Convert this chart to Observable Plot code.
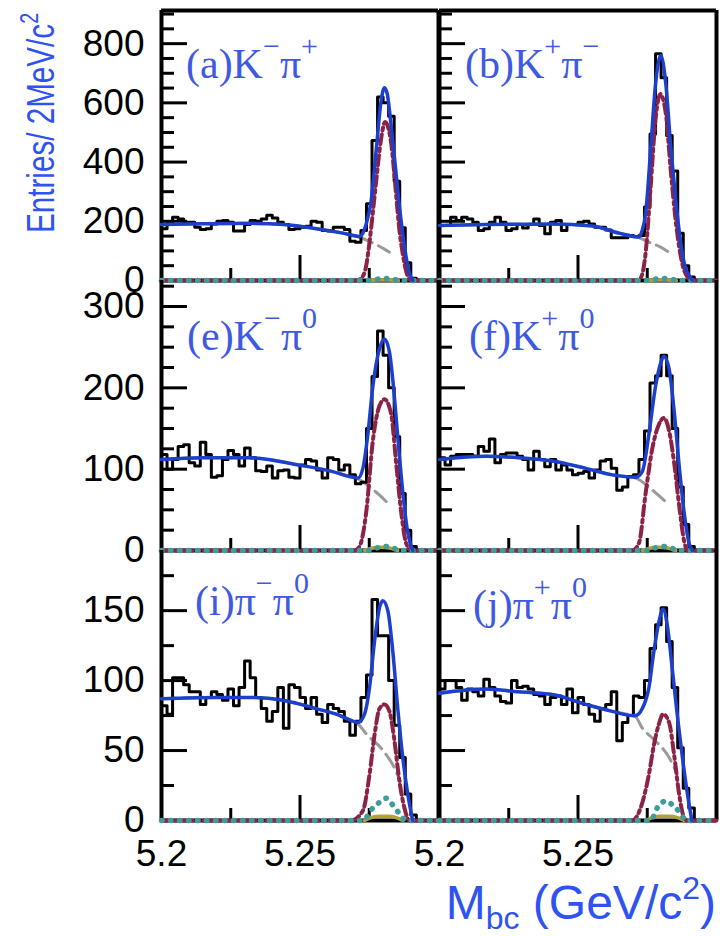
<!DOCTYPE html>
<html>
<head>
<meta charset="utf-8">
<script src="https://cdn.jsdelivr.net/npm/d3@7"></script>
<script src="https://cdn.jsdelivr.net/npm/@observablehq/plot@0.6"></script>
<style>
html,body{margin:0;padding:0;background:#fff;}
#chart{position:relative;width:720px;height:936px;overflow:hidden;background:#fff;}
.panel{position:absolute;}
</style>
</head>
<body>
<div id="chart"></div>
<script>
// ---------- axis definition ----------
const xDomain = [5.2, 5.3];
const binEdges = d3.range(51).map(i => +(5.2 + 0.002 * i).toFixed(3));
const yDomains = [[0, 912], [0, 332], [0, 193]];
const yMajor = [[0, 200, 400, 600, 800], [0, 100, 200, 300], [0, 50, 100, 150]];
const yMinor = [[50,100,150,250,300,350,450,500,550,650,700,750,850,900],[25,50,75,125,150,175,225,250,275,325],[25,75,125,175]];
const xMajor = [5.2, 5.25, 5.3];
const xMinor = [5.225, 5.275];
const xLabels = [5.2, 5.25];

// ---------- histogram counts (2 MeV bins, 5.200 - 5.300) ----------
const countsA = [175,197,214,208,197,197,180,172,175,191,200,203,197,167,167,189,203,200,208,220,211,197,189,172,175,180,183,200,197,169,167,180,180,172,133,129,169,259,473,620,600,555,335,178,60,8,0,0,0,0];
const countsB = [186,186,214,203,214,208,197,169,175,197,214,197,169,175,189,177,189,208,186,158,197,203,169,189,189,197,200,191,180,180,171,144,144,144,152,149,152,248,495,766,685,490,370,160,50,12,0,0,0,0];
const countsE = [118,100,112,128,130,108,104,133,118,90,92,112,123,118,104,126,114,98,97,104,89,98,99,90,89,105,112,110,99,89,114,112,99,105,93,82,84,150,214,270,240,200,140,70,25,5,0,0,0,0];
const countsF = [114,105,116,118,118,118,116,128,122,137,108,118,120,120,116,112,99,122,112,103,112,99,105,99,93,95,97,89,99,110,112,101,74,78,91,93,112,147,206,215,240,215,150,78,32,5,0,0,0,0];
const countsI = [82,76,102,102,97,92,92,83,88,92,90,86,94,82,95,114,102,88,80,71,78,95,66,97,95,88,80,88,76,70,83,80,78,71,61,71,88,104,158,132,132,100,68,45,19,4,0,0,0,0];
const countsJ = [94,100,100,95,86,94,92,89,101,95,89,85,84,100,95,96,94,90,89,83,88,89,83,94,77,88,83,76,71,80,83,92,57,70,75,89,88,100,123,140,152,128,95,52,23,9,0,0,0,0];

// ---------- fit curves: [Mbc, entries] ----------
const totalA = [[5.2,189],[5.215,192],[5.232,193],[5.244,189],[5.256,175],[5.2655,160],[5.2715,149],[5.2727,160],[5.2739,191],[5.2757,270],[5.2775,439],[5.2793,608],[5.2805,651],[5.2815,630],[5.2823,574],[5.2835,470],[5.2847,360],[5.2859,250],[5.2871,158],[5.2883,80],[5.2895,25],[5.2907,0]];
const sigA = [[5.2,0],[5.2703,0],[5.2727,15],[5.2739,50],[5.2751,130],[5.2763,230],[5.2775,335],[5.2793,480],[5.2807,535],[5.2819,515],[5.2829,465],[5.2839,375],[5.2847,290],[5.2859,170],[5.2871,90],[5.2881,40],[5.2889,14],[5.2903,0],[5.3,0]];
const bkgA = [[5.2,189],[5.215,192],[5.232,193],[5.244,189],[5.256,175],[5.2655,160],[5.2715,146],[5.276,128],[5.2805,106],[5.2822,96]];
const xfeedA = [[5.2,0],[5.2745,0],[5.2775,4],[5.2805,7],[5.2835,4],[5.2865,0],[5.3,0]];
const otherA = [[5.2745,0],[5.278,2],[5.282,2],[5.2855,0]];

const totalB = [[5.2,186],[5.2167,189],[5.2287,190],[5.2407,191],[5.2552,184],[5.2648,160],[5.272,147],[5.2732,170],[5.2744,225],[5.2762,439],[5.278,664],[5.2799,760],[5.2817,664],[5.2835,450],[5.2853,270],[5.2865,170],[5.2877,90],[5.2889,40],[5.2901,17],[5.2913,0]];
const sigB = [[5.2,0],[5.2712,0],[5.2726,8],[5.2744,92],[5.2762,312],[5.278,545],[5.2797,630],[5.2817,564],[5.2835,370],[5.2853,200],[5.2865,115],[5.2877,55],[5.2895,12],[5.291,0],[5.3,0]];
const bkgB = [[5.2,186],[5.2167,189],[5.2287,190],[5.2407,191],[5.2552,184],[5.2648,160],[5.272,145],[5.276,128],[5.28,112],[5.2824,98]];
const xfeedB = [[5.2,0],[5.2745,0],[5.2775,4],[5.2805,7],[5.2835,4],[5.2865,0],[5.3,0]];
const otherB = [[5.2745,0],[5.278,2],[5.282,2],[5.2855,0]];

const totalE = [[5.2,112],[5.215,114],[5.2318,114],[5.2498,105],[5.2618,97],[5.2679,91],[5.2709,89],[5.2727,101],[5.2745,143],[5.2763,202],[5.2787,248],[5.2805,260],[5.2823,244],[5.2835,210],[5.2847,164],[5.2859,115],[5.2871,72],[5.2889,22],[5.2907,0]];
const sigE = [[5.2,0],[5.2697,0],[5.2715,5],[5.2739,47],[5.2763,135],[5.2787,178],[5.2805,186],[5.2829,168],[5.2847,108],[5.2865,48],[5.2883,9],[5.2901,0],[5.3,0]];
const bkgE = [[5.2,112],[5.215,114],[5.2318,114],[5.2498,105],[5.2618,97],[5.2679,91],[5.2709,88],[5.2745,80],[5.2787,68],[5.2821,57]];
const xfeedE = [[5.2,0],[5.2745,0],[5.2775,3],[5.2805,5],[5.2835,3],[5.2865,0],[5.3,0]];
const otherE = [[5.2733,0],[5.2763,3],[5.2793,4],[5.2823,3],[5.2853,0]];

const totalF = [[5.2,112],[5.2167,116],[5.2287,114],[5.2407,110],[5.2528,101],[5.2624,93],[5.2708,90],[5.2732,97],[5.2756,143],[5.278,202],[5.2799,231],[5.281,239],[5.2829,223],[5.2847,172],[5.2865,105],[5.2883,47],[5.2901,9],[5.2913,0]];
const sigF = [[5.2,0],[5.2696,0],[5.272,9],[5.2744,70],[5.2768,125],[5.2792,155],[5.281,163],[5.2829,147],[5.2847,108],[5.2865,56],[5.2883,12],[5.2895,0],[5.3,0]];
const bkgF = [[5.2,112],[5.2167,116],[5.2287,114],[5.2407,110],[5.2528,101],[5.2624,93],[5.2708,89],[5.2756,78],[5.279,68],[5.2826,57]];
const xfeedF = [[5.2,0],[5.2745,0],[5.2775,3],[5.2805,5],[5.2835,3],[5.2865,0],[5.3,0]];
const otherF = [[5.2733,0],[5.2763,3],[5.2793,4],[5.2823,3],[5.2853,0]];

const totalI = [[5.2,87],[5.2197,88],[5.2318,88],[5.2438,86],[5.2558,80],[5.2631,76],[5.2691,71],[5.2709,70],[5.2733,76],[5.2751,95],[5.2769,128],[5.2787,152],[5.2799,157],[5.2817,150],[5.2835,121],[5.2853,80],[5.2871,45],[5.2889,19],[5.2907,0]];
const sigI = [[5.2,0],[5.2685,0],[5.2727,7],[5.2751,33],[5.2769,61],[5.2787,80],[5.2805,83],[5.2823,78],[5.2841,57],[5.2859,28],[5.2877,9],[5.2895,0],[5.3,0]];
const bkgI = [[5.2,87],[5.2197,88],[5.2318,88],[5.2438,86],[5.2558,80],[5.2631,76],[5.2691,71],[5.2709,69],[5.2739,62],[5.28,50],[5.284,38],[5.2862,28]];
const xfeedI = [[5.2,0],[5.2727,0],[5.2763,9],[5.2787,13],[5.2811,16],[5.2835,11],[5.2859,5],[5.2883,0],[5.3,0]];
const otherI = [[5.2733,0],[5.2757,2],[5.2787,3],[5.2817,3],[5.2847,2],[5.2871,0]];

const totalJ = [[5.2,91],[5.2167,94],[5.2287,92],[5.2407,90],[5.2528,83],[5.2624,78],[5.2696,75],[5.2708,75],[5.2732,80],[5.2756,95],[5.2774,121],[5.2792,142],[5.2807,151],[5.2822,140],[5.284,109],[5.2858,76],[5.2877,45],[5.2895,19],[5.2911,0]];
const sigJ = [[5.2,0],[5.2696,0],[5.2726,9],[5.2756,33],[5.2774,54],[5.2792,69],[5.2807,76],[5.2829,70],[5.2847,47],[5.2865,19],[5.2883,2],[5.2895,0],[5.3,0]];
const bkgJ = [[5.2,91],[5.2167,94],[5.2287,92],[5.2407,90],[5.2528,83],[5.2624,78],[5.2708,74],[5.2732,66],[5.2768,59],[5.2829,45],[5.2858,33]];
const xfeedJ = [[5.2,0],[5.2762,0],[5.2786,9],[5.2817,14],[5.2847,10],[5.2871,5],[5.2889,0],[5.3,0]];
const otherJ = [[5.2745,0],[5.2768,2],[5.2798,3],[5.2829,3],[5.2859,2],[5.2883,0]];

// ---------- panel labels ----------
const labelA = [["(a)K",0],["−",1],["π",0],["+",1]];
const labelB = [["(b)K",0],["+",1],["π",0],["−",1]];
const labelE = [["(e)K",0],["−",1],["π",0],["0",1]];
const labelF = [["(f)K",0],["+",1],["π",0],["0",1]];
const labelI = [["(i)π",0],["−",1],["π",0],["0",1]];
const labelJ = [["(j)π",0],["+",1],["π",0],["0",1]];

const panels = [
  {row:0,col:0,counts:countsA,total:totalA,sig:sigA,bkg:bkgA,xfeed:xfeedA,other:otherA,label:labelA,lx:186,ly:78},
  {row:0,col:1,counts:countsB,total:totalB,sig:sigB,bkg:bkgB,xfeed:xfeedB,other:otherB,label:labelB,lx:465,ly:78},
  {row:1,col:0,counts:countsE,total:totalE,sig:sigE,bkg:bkgE,xfeed:xfeedE,other:otherE,label:labelE,lx:187,ly:350},
  {row:1,col:1,counts:countsF,total:totalF,sig:sigF,bkg:bkgF,xfeed:xfeedF,other:otherF,label:labelF,lx:469,ly:350},
  {row:2,col:0,counts:countsI,total:totalI,sig:sigI,bkg:bkgI,xfeed:xfeedI,other:otherI,label:labelI,lx:195,ly:615},
  {row:2,col:1,counts:countsJ,total:totalJ,sig:sigJ,bkg:bkgJ,xfeed:xfeedJ,other:otherJ,label:labelJ,lx:473,ly:619}
];

// ---------- layout ----------
const colX = [161, 439];
const rowY = [10, 280, 550];
const W = 277, H = 270;
const mL = 120, mR = 8, mT = 8, mB = 80;
const fontSans = '"Liberation Sans", Arial, Helvetica, sans-serif';

const chart = document.getElementById("chart");
const px = d => d[0], py = d => d[1];

for (const p of panels) {
  const hist = binEdges.map((x, i) => ({x, y: i < p.counts.length ? p.counts[i] : p.counts[p.counts.length - 1]}));
  const yTop = yDomains[p.row][1];
  const marks = [
    Plot.ruleX(xDomain, {stroke: "black", strokeWidth: 4}),
    Plot.ruleY([0], {stroke: "black", strokeWidth: 4}),
    p.row === 0 ? Plot.ruleY([yTop], {stroke: "black", strokeWidth: 4}) : null,
    Plot.tickY(yMajor[p.row], {y: d => d, stroke: "black", strokeWidth: 3, insetRight: W - 26}),
    Plot.tickY(yMinor[p.row], {y: d => d, stroke: "black", strokeWidth: 3, insetRight: W - 13}),
    Plot.tickX(xMajor, {x: d => d, stroke: "black", strokeWidth: 3, insetTop: H - 25}),
    Plot.tickX(xMinor, {x: d => d, stroke: "black", strokeWidth: 3, insetTop: H - 12}),
    Plot.line(p.bkg, {x: px, y: py, curve: "monotone-x", stroke: "#9a9a9a", strokeWidth: 3, strokeDasharray: "15,7"}),
    Plot.line(hist, {x: "x", y: "y", curve: "step-after", stroke: "black", strokeWidth: 3}),
    Plot.line(p.other, {x: px, y: py, curve: "monotone-x", stroke: "#b3a132", strokeWidth: 3.5}),
    Plot.line(p.sig, {x: px, y: py, curve: "monotone-x", stroke: "#8c2346", strokeWidth: 4, strokeDasharray: "10,4,3,4"}),
    Plot.line(p.xfeed, {x: px, y: py, curve: "monotone-x", stroke: "#3e9c9a", strokeWidth: 5.5, strokeDasharray: "0.5,8.5", strokeLinecap: "round"}),
    Plot.line(p.total, {x: px, y: py, curve: "monotone-x", stroke: "#1c3fcc", strokeWidth: 3.5})
  ];
  if (p.col === 0) {
    marks.push(Plot.axisY(yMajor[p.row], {anchor: "left", tickSize: 0, tickPadding: 17, tickFormat: d => String(d), label: null, fontSize: 37}));
  }
  if (p.row === 2) {
    marks.push(Plot.axisX(xLabels, {anchor: "bottom", tickSize: 0, tickPadding: 19, tickFormat: d => String(d), label: null, fontSize: 37}));
  }
  const svg = Plot.plot({
    width: W + mL + mR,
    height: H + mT + mB,
    marginLeft: mL, marginRight: mR, marginTop: mT, marginBottom: mB,
    x: {domain: xDomain, axis: null},
    y: {domain: yDomains[p.row], axis: null},
    style: {background: "none", overflow: "visible", fontFamily: fontSans, fontSize: "37px", maxWidth: "none"},
    marks
  });
  const div = document.createElement("div");
  div.className = "panel";
  div.style.left = (colX[p.col] - mL) + "px";
  div.style.top = (rowY[p.row] - mT) + "px";
  div.style.width = (W + mL + mR) + "px";
  div.appendChild(svg);
  chart.appendChild(div);
}

// ---------- text overlay: panel labels and axis titles ----------
const overlay = d3.select(chart).append("svg")
  .attr("width", 720).attr("height", 936)
  .style("position", "absolute").style("left", "0px").style("top", "0px")
  .style("overflow", "visible");

const labelColor = "#3f5ae2";
for (const p of panels) {
  const t = overlay.append("text")
    .attr("x", p.lx).attr("y", p.ly)
    .attr("font-family", '"Liberation Serif", "Times New Roman", serif')
    .attr("font-size", 42).attr("fill", labelColor);
  let raised = false;
  for (const [s, sup] of p.label) {
    const ts = t.append("tspan").text(s);
    if (sup && !raised) { ts.attr("dy", -22); raised = true; }
    else if (!sup && raised) { ts.attr("dy", 22); raised = false; }
    if (sup) ts.attr("font-size", 30);
  }
}

const titleColor = "#2f52f2";
const yt = overlay.append("text")
  .attr("transform", "translate(54,233) rotate(-90) scale(0.76,1)")
  .attr("font-family", fontSans).attr("font-size", 39).attr("fill", titleColor);
yt.append("tspan").text("Entries/ 2MeV/c");
yt.append("tspan").attr("dy", -16).attr("font-size", 26).text("2");

const xt = overlay.append("text")
  .attr("x", 716).attr("y", 919).attr("text-anchor", "end")
  .attr("font-family", fontSans).attr("font-size", 48).attr("fill", titleColor);
xt.append("tspan").text("M");
xt.append("tspan").attr("dy", 10).attr("font-size", 32).text("bc");
xt.append("tspan").attr("dy", -10).text(" (GeV/c");
xt.append("tspan").attr("dy", -20).attr("font-size", 32).text("2");
xt.append("tspan").attr("dy", 20).text(")");
</script>
</body>
</html>
